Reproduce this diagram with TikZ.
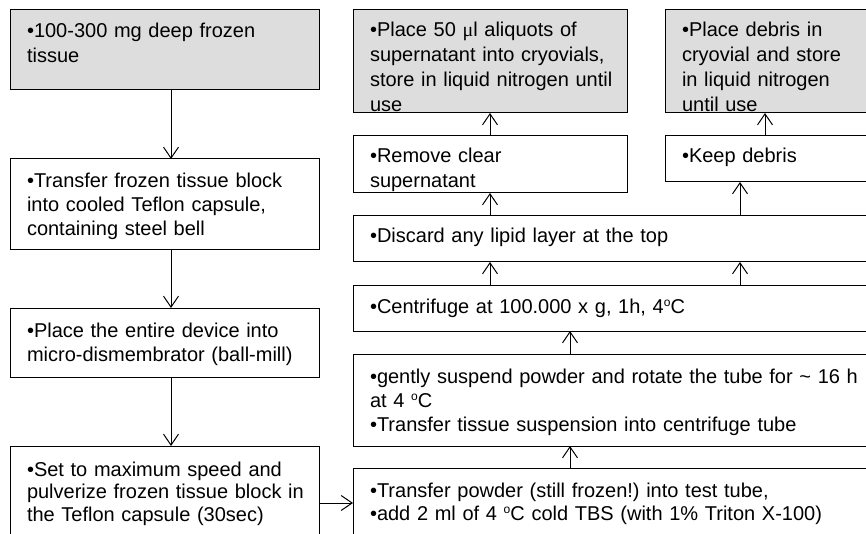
\documentclass[tikz,border=0pt]{standalone}
\usepackage{fontspec}
\setmainfont{Liberation Sans}
\newfontfamily\mufont{Liberation Serif}
\usetikzlibrary{arrows.meta,calc}
\definecolor{boxgray}{RGB}{221,221,221}
\frenchspacing
\newcommand\dgo{\raisebox{6.5pt}{\fontsize{12}{12}\selectfont o}}
\tikzset{
  box/.style={draw, line width=1pt, inner sep=0pt, outer sep=0pt},
  gbox/.style={box, fill=boxgray},
  txt/.style={anchor=north west, inner sep=0pt, outer sep=0pt, align=left, text width=600pt},
  arr/.style={draw, line width=1pt, -{Straight Barb[length=11pt,width=15pt,line width=1pt]}},
}
\newcommand\mkbox[6]{%
  \pgfmathsetmacro\bw{#5-#3}\pgfmathsetmacro\bh{#6-#4}%
  \node[#2, minimum width=\bw pt, minimum height=\bh pt, anchor=north west] (#1) at (#3,#4) {};}
\newcommand\mktext[5]{%
  \node[txt, font=\fontsize{20}{#4}\selectfont\frenchspacing] (#1) at ($(#2.north west)+(17,{#3-0.7*#4})$) {\strut #5};}
\begin{document}
\begin{tikzpicture}[x=1pt,y=-1pt]
\useasboundingbox (0,0) rectangle (866,534);
\clip (0,0) rectangle (866,534);
% boxes
\mkbox{A}{gbox}{10}{10}{319}{90}
\mkbox{B}{box}{10}{159}{319}{250}
\mkbox{C}{box}{10}{308}{319}{377}
\mkbox{D}{box}{10}{446}{319}{560}
\mkbox{E}{gbox}{353}{10}{627}{113}
\mkbox{F}{gbox}{665}{10}{880}{113}
\mkbox{G}{box}{353}{136}{627}{193}
\mkbox{H}{box}{665}{136}{880}{182}
\mkbox{I}{box}{353}{216}{880}{262}
\mkbox{J}{box}{353}{285}{880}{331}
\mkbox{K}{box}{353}{354}{880}{446}
\mkbox{L}{box}{353}{468}{880}{560}
% texts
\mktext{tA}{A}{28}{25}{•100-300 mg deep frozen\\tissue}
\mktext{tB}{B}{29}{24}{•Transfer frozen tissue block\\into cooled Teflon capsule,\\containing steel bell}
\mktext{tC}{C}{29}{24}{•Place the entire device into\\micro-dismembrator (ball-mill)}
\mktext{tD}{D}{30}{22.5}{•Set to maximum speed and\\pulverize frozen tissue block in\\the Teflon capsule (30sec)}
\mktext{tE}{E}{27}{25}{•Place 50 {\mufont μ}l aliquots of\\supernatant into cryovials,\\store in liquid nitrogen until\\use}
\mktext{tF}{F}{27}{25}{•Place debris in\\cryovial and store\\in liquid nitrogen\\until use}
\mktext{tG}{G}{27}{25}{•Remove clear\\supernatant}
\mktext{tH}{H}{27}{25}{•Keep debris}
\mktext{tI}{I}{27}{25}{•Discard any lipid layer at the top}
\mktext{tJ}{J}{28}{25}{•Centrifuge at 100.000 x g, 1h, 4\dgo C}
\mktext{tK}{K}{29}{24}{•gently suspend powder and rotate the tube for \textasciitilde{} 16 h\\at 4 \dgo C\\•Transfer tissue suspension into centrifuge tube}
\mktext{tL}{L}{29}{23}{•Transfer powder (still frozen!) into test tube,\\•add 2 ml of 4 \dgo C cold TBS (with 1\% Triton X-100)}
% guide coordinates
\coordinate (xl) at (171,0);
\coordinate (x490) at (490,0);
\coordinate (x570) at (570,0);
\coordinate (x740) at (740,0);
\coordinate (x765) at (765,0);
\coordinate (yh) at (0,503);
% connectors
\draw[arr] (A.south -| xl) -- (B.north -| xl);
\draw[arr] (B.south -| xl) -- (C.north -| xl);
\draw[arr] (C.south -| xl) -- (D.north -| xl);
\draw[arr] (D.east |- yh) -- (L.west |- yh);
\draw[arr] (L.north -| x570) -- (K.south -| x570);
\draw[arr] (K.north -| x570) -- (J.south -| x570);
\draw[arr] (J.north -| x490) -- (I.south -| x490);
\draw[arr] (J.north -| x740) -- (I.south -| x740);
\draw[arr] (I.north -| x490) -- (G.south -| x490);
\draw[arr] (I.north -| x740) -- (H.south -| x740);
\draw[arr] (G.north -| x490) -- (E.south -| x490);
\draw[arr] (H.north -| x765) -- (F.south -| x765);
\end{tikzpicture}
\end{document}
